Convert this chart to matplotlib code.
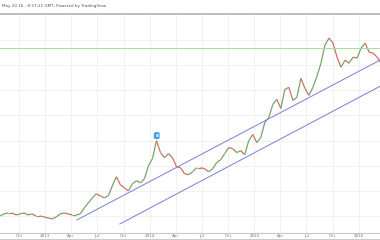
import numpy as np
import pandas as pd
import matplotlib.pyplot as plt
from matplotlib.collections import LineCollection
import matplotlib.dates as mdates

# biweekly closes
start = '2012-07-27'
closes = [10.0, 10.8, 11.2, 11.2, 10.4, 10.8, 11.2, 10.4, 10.8, 10.0,
          10.0, 9.6, 9.2, 8.8, 9.6, 10.8, 11.2, 10.8, 10.4, 10.4,
          10.8, 13.2, 15.2, 17.2, 18.8, 18.0, 17.2, 18.0, 22.0, 25.6,
          22.4, 21.2, 20.0, 22.8, 24.0, 23.2, 24.8, 30.0, 32.8, 40.0,
          35.2, 33.2, 34.8, 33.2, 29.6, 29.2, 26.8, 26.4, 27.6, 29.2,
          29.2, 28.8, 27.6, 28.8, 31.2, 32.4, 34.8, 37.2, 36.8, 35.2,
          36.0, 34.4, 40.0, 42.4, 39.2, 41.2, 47.2, 49.2, 54.4, 56.4,
          52.8, 60.4, 61.2, 56.0, 57.2, 64.8, 60.8, 58.0, 61.2, 65.6,
          70.8, 78.0, 80.8, 78.8, 73.2, 69.2, 72.0, 70.8, 73.2, 72.8,
          76.8, 78.8, 75.2, 74.8, 73.2, 70.8]

resistance = 76.8
upper_dates = ['2013-04-21', '2016-03-14']
upper_vals = [8.4, 72.0]
lower_dates = ['2013-09-18', '2016-03-14']
lower_vals = [6.8, 61.6]

mark_date = '2014-01-25'
mark_val = 41.2

tick_dates = ['2012-10-01', '2013-01-01', '2013-04-01', '2013-07-01', '2013-10-01',
              '2014-01-01', '2014-04-01', '2014-07-01', '2014-10-01', '2015-01-01',
              '2015-04-01', '2015-07-01', '2015-10-01', '2016-01-01']
tick_labels = ['Oct', '2013', 'Apr', 'Jul', 'Oct', '2014', 'Apr', 'Jul', 'Oct',
               '2015', 'Apr', 'Jul', 'Oct', '2016']

dates = pd.date_range(start, periods=len(closes), freq='14D')
xd = mdates.date2num(dates)

fig = plt.figure(figsize=(3.8, 2.4), dpi=100)
ax = fig.add_axes([0, 0.029, 1, 0.913])

up_c = '#78a36a'
dn_c = '#c9735f'
segs = []
cols = []
for i in range(1, len(closes)):
    segs.append([(xd[i - 1], closes[i - 1]), (xd[i], closes[i])])
    cols.append(up_c if closes[i] >= closes[i - 1] else dn_c)
ax.add_collection(LineCollection(segs, colors=cols, linewidths=0.9))

ax.axhline(resistance, color='#a8dc9c', lw=0.7)
ax.plot(pd.to_datetime(upper_dates), upper_vals, color='#7c7cdc', lw=0.7)
ax.plot(pd.to_datetime(lower_dates), lower_vals, color='#7c7cdc', lw=0.7)

ax.text(pd.Timestamp(mark_date), mark_val, 'B', color='white', fontsize=2.8,
        ha='center', va='bottom', fontweight='bold',
        bbox=dict(boxstyle='round,pad=0.35', fc='#3d9be9', ec='none'))

ax.set_xlim(pd.Timestamp('2012-07-27'), pd.Timestamp('2016-03-14'))
ax.set_ylim(3.2, 90.4)
ax.set_xticks(pd.to_datetime(tick_dates))
ax.set_xticklabels(tick_labels)
ax.set_yticks(np.arange(10, 90, 10))
ax.tick_params(axis='x', length=0, pad=0.8, labelsize=3, labelcolor='#777777')
ax.tick_params(axis='y', left=False, labelleft=False)
ax.grid(True, color='#ececec', lw=0.5)
ax.set_axisbelow(True)

for s in ['left', 'right']:
    ax.spines[s].set_visible(False)
ax.spines['top'].set_color('#bdbdbd')
ax.spines['top'].set_linewidth(1.4)
ax.spines['bottom'].set_color('#c8c8c8')
ax.spines['bottom'].set_linewidth(0.8)

fig.text(0.005, 0.975, 'May 20 16 - 8:57:21 GMT, Powered by TradingView',
         fontsize=3, color='#555555', va='center')
fig.add_artist(plt.Line2D([0, 1], [0.004, 0.004], color='#cccccc', lw=0.8))

fig.savefig('out.png', dpi=100)
